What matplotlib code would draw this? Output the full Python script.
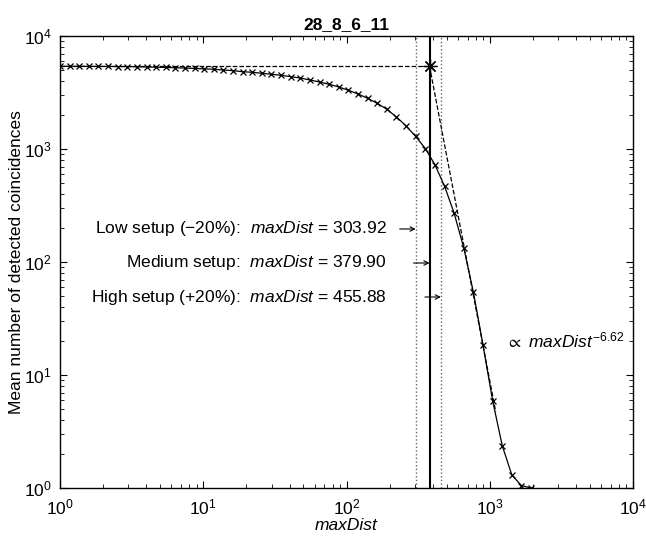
import numpy as np
import matplotlib
matplotlib.use('Agg')
import matplotlib.pyplot as plt

plt.rcParams['font.family'] = ['Liberation Sans', 'DejaVu Sans']
plt.rcParams['mathtext.fontset'] = 'custom'
plt.rcParams['mathtext.rm'] = 'Liberation Sans'
plt.rcParams['mathtext.it'] = 'Liberation Sans:italic'
plt.rcParams['mathtext.bf'] = 'Liberation Sans:bold'
plt.rcParams['mathtext.fallback'] = 'stixsans'

# measured curve (maxDist vs mean detected coincidences)
max_dist = [1.00, 1.167, 1.362, 1.589, 1.855, 2.165, 2.527, 2.949, 3.442, 4.017,
            4.688, 5.472, 6.386, 7.453, 8.699, 10.15, 11.85, 13.83, 16.14, 18.84,
            21.98, 25.66, 29.94, 34.95, 40.79, 47.61, 55.56, 64.85, 75.69, 88.34,
            103.1, 120.3, 140.4, 163.9, 191.3, 223.3, 260.6, 304.1, 355.0, 414.3,
            483.5, 564.3, 658.7, 768.8, 897.2, 1047, 1222, 1427, 1665, 1943]
coinc = [5395, 5395, 5395, 5385, 5385, 5380, 5370, 5360, 5345, 5320,
         5297, 5270, 5240, 5205, 5165, 5120, 5075, 5003, 4933, 4831,
         4774, 4677, 4582, 4489, 4363, 4250, 4080, 3917, 3739, 3539,
         3311, 3068, 2811, 2537, 2245, 1919, 1600, 1291, 1010, 725,
         469, 270, 133, 54, 18.4, 5.93, 2.37, 1.30, 1.05, 1.0]

plateau = 5395
exponent = -6.62
setups = ['Low setup (\u221220%):', 'Medium setup:', 'High setup (+20%):']
setup_dist = [303.92, 379.90, 455.88]
label_y = [196, 98, 49]
title = '28_8_6_11'

fs = 12.5

fig = plt.figure(figsize=(6.46, 5.39), dpi=100)
ax = fig.add_axes([0.0929, 0.0946, 0.8870, 0.8386])

# vertical lines for the three setups
ax.axvline(setup_dist[0], color='0.4', linestyle=':', linewidth=1.0)
ax.axvline(setup_dist[2], color='0.4', linestyle=':', linewidth=1.0)
ax.axvline(setup_dist[1], color='k', linestyle='-', linewidth=1.5)

# plateau and power law guides
ax.plot([1, setup_dist[1]], [plateau, plateau], 'k--', linewidth=0.9)
px = np.array([setup_dist[1], 1100])
ax.plot(px, plateau * (px / setup_dist[1]) ** exponent, 'k--', linewidth=0.9)
ax.plot(setup_dist[1], plateau, color='k', marker=(8, 2, 0), markersize=10, markeredgewidth=0.9)

ax.plot(max_dist, coinc, 'k-x', linewidth=0.9, markersize=5, markeredgewidth=0.9)

for name, d, yy in zip(setups, setup_dist, label_y):
    ax.text(192, yy, name + '  $\\mathit{maxDist}$ = %.2f' % d, ha='right', va='center', fontsize=fs)
    ax.annotate('', xy=(d, yy), xytext=(d / 1.293, yy),
                arrowprops=dict(arrowstyle='->', color='k', linewidth=0.8,
                                shrinkA=0, shrinkB=0, mutation_scale=8))

ax.text(1298, 20.4, '$\\propto$ $\\mathit{maxDist}^{-6.62}$', ha='left', va='center', fontsize=fs)

ax.set_xscale('log')
ax.set_yscale('log')
ax.set_xlim(1, 1e4)
ax.set_ylim(1, 1e4)
ax.tick_params(which='both', direction='in', top=True, right=True, labelsize=fs)
ax.tick_params(which='major', length=5, width=0.8)
ax.tick_params(which='minor', length=3, width=0.6)
ax.tick_params(axis='x', which='major', pad=7)
ax.tick_params(axis='y', which='major', pad=6)
for s in ax.spines.values():
    s.set_linewidth(1.0)

ax.set_xlabel('maxDist', fontstyle='italic', fontsize=fs, labelpad=0)
ax.set_ylabel('Mean number of detected coincidences', fontsize=fs, labelpad=0)
ax.set_title(title, fontweight='bold', fontsize=fs, pad=5)

fig.savefig('out.png', dpi=100)
